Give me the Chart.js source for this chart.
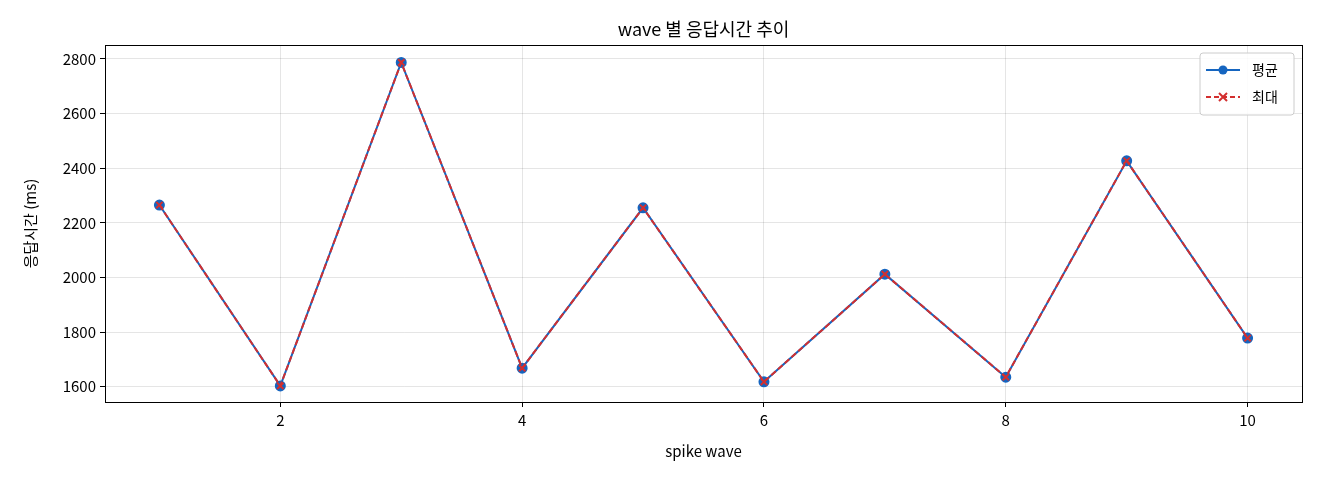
<!DOCTYPE html>
<html><head><meta charset="utf-8">
<script src="https://cdn.jsdelivr.net/npm/chart.js@4.4.1/dist/chart.umd.min.js"></script>
<style>html,body{margin:0;padding:0;background:#fff}#w{width:1320px;height:480px}</style>
</head><body><div id="w"><canvas id="c"></canvas></div>
<script>
const waves = [1,2,3,4,5,6,7,8,9,10];
const avgMs = [2265,1603,2787,1668,2255,1618,2012,1635,2427,1778];
const maxMs = [2265,1603,2787,1668,2255,1618,2012,1635,2427,1778];
const xTicks = [2,4,6,8,10];
const yTicks = [1600,1800,2000,2200,2400,2600,2800];
const F = "'Noto Sans CJK KR', 'DejaVu Sans', sans-serif";
const BLUE = '#1565c0', RED = '#d32f2f';

const deco = {
  id:'deco',
  afterDraw(ch){
    const {ctx, chartArea:a} = ch;
    ctx.save();
    ctx.strokeStyle='#000'; ctx.lineWidth=1;
    ctx.strokeRect(a.left+0.5,a.top+0.5,a.right-a.left,a.bottom-a.top);
    ctx.fillStyle='#000'; ctx.textAlign='center'; ctx.textBaseline='middle';
    ctx.font='18px '+F;
    ctx.fillText('wave 별 응답시간 추이',(a.left+a.right)/2,29);
    ctx.font='15px '+F;
    ctx.fillText('spike wave',(a.left+a.right)/2,451);
    ctx.save(); ctx.translate(30,(a.top+a.bottom)/2); ctx.rotate(-Math.PI/2);
    ctx.fillText('응답시간 (ms)',0,0); ctx.restore();
    // legend
    const bx=1200, by=53, bw=94, bh=62;
    ctx.fillStyle='rgba(255,255,255,0.85)'; ctx.strokeStyle='#ccc';
    ctx.beginPath(); ctx.roundRect(bx,by,bw,bh,3); ctx.fill(); ctx.stroke();
    ctx.lineWidth=2;
    ctx.strokeStyle=BLUE; ctx.beginPath(); ctx.moveTo(bx+6,by+17); ctx.lineTo(bx+40,by+17); ctx.stroke();
    ctx.fillStyle=BLUE; ctx.beginPath(); ctx.arc(bx+23,by+17,4.5,0,Math.PI*2); ctx.fill();
    ctx.strokeStyle=RED; ctx.setLineDash([5,3]); ctx.beginPath(); ctx.moveTo(bx+6,by+44); ctx.lineTo(bx+40,by+44); ctx.stroke();
    ctx.setLineDash([]); ctx.beginPath();
    ctx.moveTo(bx+19,by+40); ctx.lineTo(bx+27,by+48); ctx.moveTo(bx+27,by+40); ctx.lineTo(bx+19,by+48); ctx.stroke();
    ctx.fillStyle='#000'; ctx.textAlign='left'; ctx.font='14px '+F;
    ctx.fillText('평균',bx+52,by+17); ctx.fillText('최대',bx+52,by+44);
    ctx.restore();
  }
};

new Chart(document.getElementById('c'),{
  type:'line',
  data:{datasets:[
    {label:'평균',order:1,data:waves.map((w,i)=>({x:w,y:avgMs[i]})),borderColor:BLUE,backgroundColor:BLUE,borderWidth:2,pointRadius:4.5,pointHoverRadius:4.5,pointStyle:'circle'},
    {label:'최대',order:0,data:waves.map((w,i)=>({x:w,y:maxMs[i]})),borderColor:RED,backgroundColor:RED,borderWidth:2,borderDash:[6,3],pointRadius:4.5,pointBorderWidth:2,pointStyle:'crossRot'}
  ]},
  options:{
    responsive:true,maintainAspectRatio:false,animation:false,
    layout:{padding:{left:0,right:18,top:45,bottom:0}},
    plugins:{legend:{display:false},title:{display:false},tooltip:{enabled:false}},
    scales:{
      x:{type:'linear',min:0.55,max:10.45,
        afterBuildTicks:s=>{s.ticks=xTicks.map(v=>({value:v}));},
        afterFit:s=>{s.height=78;},
        grid:{color:'rgba(0,0,0,0.1)',tickLength:5,tickColor:'#000'},border:{display:false},
        ticks:{color:'#000',font:{size:15,family:F},padding:4,callback:v=>String(v)}},
      y:{min:1544,max:2851,
        afterBuildTicks:s=>{s.ticks=yTicks.map(v=>({value:v}));},
        afterFit:s=>{s.width=105;},
        grid:{color:'rgba(0,0,0,0.1)',tickLength:5,tickColor:'#000'},border:{display:false},
        ticks:{color:'#000',font:{size:15,family:F},padding:4,callback:v=>String(v)}}
    }
  },
  plugins:[deco]
});
</script></body></html>
